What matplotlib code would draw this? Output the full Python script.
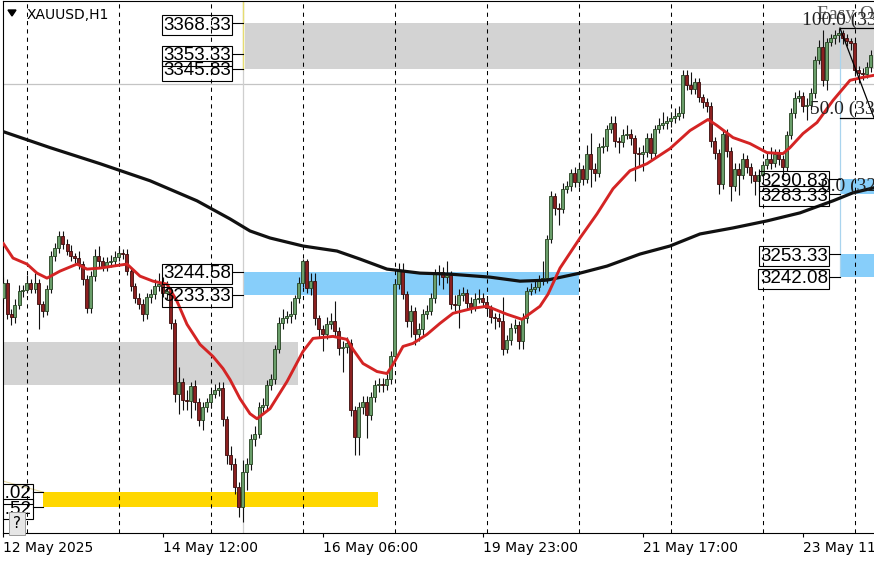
import matplotlib.pyplot as plt
from matplotlib import font_manager
from matplotlib.patches import Polygon, Rectangle

# XAUUSD H1, bar 0 = first visible bar (12 May 2025)
first_open = 3231.5
closes = [
    3239, 3223.5, 3222, 3228, 3235, 3235.5, 3239, 3236, 3239, 3228.5,
    3225, 3236, 3252.5, 3256.5, 3262.5, 3258.5, 3255, 3252.5, 3251.5, 3248.5,
    3241, 3226.5, 3242.5, 3252.5, 3250, 3247.5, 3249.5, 3250, 3252, 3254,
    3253.5, 3245, 3237.5, 3231.5, 3228.5, 3223.5, 3232, 3233.5, 3237.5, 3238.5,
    3234, 3235, 3219, 3184, 3190, 3181, 3180.5, 3188, 3180, 3171,
    3177.5, 3180, 3184, 3186, 3187, 3171.5, 3153.5, 3149, 3137.5, 3127.5,
    3145, 3149, 3161.5, 3164, 3177.5, 3178.5, 3188.5, 3191.5, 3206, 3219,
    3221.5, 3222.5, 3223.5, 3231.5, 3239, 3250, 3236.5, 3240, 3221.5, 3216,
    3213.5, 3218.5, 3220, 3215, 3206.5, 3207, 3209, 3176, 3162.5, 3177.5,
    3180, 3173.5, 3182.5, 3188.5, 3189, 3188.5, 3191.5, 3202.5, 3238.5, 3245,
    3233.5, 3220, 3225, 3213.5, 3216, 3223.5, 3225, 3231.5, 3243.5, 3244.5,
    3242, 3243, 3228.5, 3228, 3233, 3234, 3229, 3227, 3231, 3231.5,
    3229.5, 3226.5, 3222, 3221.5, 3220, 3206, 3210.5, 3216.5, 3218, 3210,
    3221.5, 3235, 3236, 3237, 3240, 3241.5, 3261, 3282.5, 3276.5, 3276,
    3286, 3287.5, 3294, 3289.5, 3296, 3291, 3303.5, 3296, 3294, 3307,
    3307.5, 3316, 3319, 3310, 3309.5, 3313, 3313.5, 3311.5, 3304, 3303.5,
    3304.5, 3311.5, 3304, 3316, 3318, 3319, 3319.5, 3321, 3322, 3323.5,
    3342.5, 3337.5, 3335.5, 3339, 3331.5, 3329, 3327, 3310, 3304, 3288.5,
    3313.5, 3305, 3287.5, 3296, 3293, 3301, 3297, 3293, 3290, 3293,
    3298, 3301, 3299, 3303.5, 3301, 3297, 3313, 3323.5, 3331, 3332,
    3327, 3327.5, 3333.5, 3350, 3356.5, 3340, 3359, 3361, 3362.5, 3363.5,
    3361, 3359.5, 3358.5, 3345, 3343.5, 3343, 3346.5, 3352.5,
]
highs = [
    3242, 3241, 3226, 3231, 3238, 3238, 3243, 3241, 3244, 3241,
    3230, 3238, 3255, 3259, 3265, 3265, 3261, 3258, 3254, 3255,
    3250, 3243, 3245, 3256, 3257.5, 3252, 3252, 3253, 3255, 3257,
    3256, 3256, 3247, 3239, 3234, 3231, 3234, 3236, 3241, 3244,
    3242, 3240, 3237, 3221, 3197.5, 3192, 3186, 3190, 3191, 3182,
    3180, 3182, 3186, 3189, 3190, 3190, 3173, 3158, 3152, 3140,
    3151, 3152, 3164, 3168, 3180, 3182, 3191, 3194, 3208, 3222,
    3226, 3225, 3230, 3233, 3242, 3251, 3251, 3244, 3244, 3223,
    3218, 3222, 3224, 3230, 3217, 3210, 3212, 3211, 3178, 3180,
    3183, 3183, 3185, 3191, 3192, 3192, 3194, 3205, 3241, 3249,
    3249, 3235, 3228, 3227, 3219, 3226, 3228, 3234, 3246, 3248,
    3247, 3250, 3245, 3233, 3236, 3237, 3236, 3232, 3234, 3236,
    3234, 3232, 3228, 3224, 3224, 3232, 3213, 3219, 3221, 3220,
    3224, 3237, 3239, 3240, 3243, 3250, 3263, 3285, 3284, 3279,
    3289, 3290, 3296, 3297, 3299, 3298, 3308, 3314, 3299, 3309,
    3312, 3318, 3322, 3322, 3312, 3316, 3318, 3316, 3313, 3307,
    3308, 3314, 3314, 3318, 3321, 3324, 3322, 3324, 3326, 3327,
    3345, 3345, 3344, 3341, 3341, 3333, 3331, 3329, 3312, 3306,
    3316, 3316, 3307, 3299, 3299, 3304, 3303, 3299, 3295, 3296,
    3300, 3304, 3307, 3306, 3306, 3303, 3315, 3326, 3334, 3335,
    3334, 3331, 3336, 3352, 3360, 3365, 3361, 3363, 3365, 3366,
    3365, 3363, 3361, 3360, 3347, 3346, 3349, 3355,
]
lows = [
    3229, 3221, 3218, 3219, 3226, 3232, 3234, 3234, 3234, 3216,
    3222, 3223, 3234, 3250, 3254, 3256, 3253, 3250, 3249, 3246,
    3238, 3224, 3224, 3240, 3247, 3245, 3245, 3247, 3248, 3250,
    3251, 3243, 3235, 3229, 3226, 3220, 3221, 3229, 3231, 3235,
    3232, 3231, 3216, 3180, 3174, 3176, 3176, 3172, 3176, 3168,
    3166, 3175, 3177, 3182, 3183, 3168, 3149, 3146, 3134, 3122.5,
    3120, 3136, 3146, 3158, 3162, 3175, 3176, 3186, 3189, 3204,
    3216, 3219, 3219, 3221, 3229, 3237, 3234, 3233, 3218, 3212,
    3205, 3211, 3216, 3212, 3203, 3195, 3204, 3173, 3153.5, 3153.5,
    3174, 3162, 3171, 3180, 3185, 3185, 3186, 3189, 3200, 3236,
    3231, 3217, 3212, 3208, 3210, 3213, 3221, 3223, 3229, 3238,
    3236, 3239, 3226, 3225, 3216.5, 3230, 3226, 3224, 3225, 3229,
    3227, 3224, 3219, 3216, 3217, 3203, 3204, 3208, 3214, 3206,
    3206, 3219, 3233, 3234, 3235, 3238, 3239, 3259, 3273, 3268,
    3274, 3284, 3285, 3287, 3287, 3288, 3289, 3287, 3290, 3292,
    3304, 3305, 3314, 3307, 3304, 3307, 3311, 3308, 3290, 3297,
    3295, 3302, 3301, 3302, 3314, 3316, 3316, 3317, 3319, 3320,
    3321, 3335, 3333, 3333, 3329, 3326, 3324, 3307, 3301, 3283.5,
    3286, 3302, 3280, 3285, 3283, 3291, 3294, 3289, 3283, 3288,
    3291, 3296, 3296, 3297, 3298, 3292, 3295, 3311, 3321, 3329,
    3324, 3320, 3325, 3331, 3348, 3337, 3335, 3357, 3358, 3359,
    3358, 3357, 3355, 3342, 3338.5, 3340, 3341, 3344,
]

# moving averages (bar index, price)
ma_fast_bar = [0, 2.5, 6, 8.5, 11, 14.25, 18.5, 21, 24.25, 27.5, 31, 34.25, 37.5, 41,
               43.5, 46, 49.25, 52.5, 55, 56.75, 59.25, 61.75, 63.5, 66.75, 71, 75,
               77.5, 82.5, 86, 87.5, 90, 93.5, 96, 97.5, 100, 102.5, 106, 109.25,
               112.5, 117.5, 121, 126, 129.75, 134.25, 136.25, 139.25, 144.25, 148.5,
               152.5, 156.75, 161, 166.75, 171.75, 176.25, 178.5, 182.5, 186.75, 191,
               195, 196.75, 200, 203.5, 207.5, 211.75, 215, 217.75]
ma_fast = [3259, 3251.5, 3248.5, 3244, 3241.5, 3245, 3248.5, 3246, 3246.5, 3247.5,
           3248.5, 3242.5, 3240, 3238.5, 3230, 3218.5, 3208.5, 3202.5, 3196.5, 3191,
           3181.5, 3174, 3171.5, 3176.5, 3190, 3205, 3211.5, 3212.5, 3211, 3206,
           3199, 3195, 3194, 3198.5, 3207.5, 3209, 3213.5, 3219, 3224, 3226.5,
           3227.5, 3223.5, 3221, 3227.5, 3233.5, 3246.5, 3261.5, 3273.5, 3286, 3295,
           3298.5, 3306, 3315, 3320.5, 3317.5, 3311.5, 3308.5, 3304, 3303.5, 3306.5,
           3313.5, 3319, 3330, 3340, 3341.5, 3342.5]
ma_slow_bar = [-0.75, 11.75, 24.25, 36.75, 48.5, 56.75, 61.75, 66.75, 75, 83.5, 89.25,
               96, 104.25, 111.75, 121.75, 129.25, 136, 144.25, 151, 159.25, 166.75,
               174.25, 182.5, 191, 199.25, 207.5, 212.5, 217.75]
ma_slow = [3315, 3306.5, 3298.5, 3290, 3280, 3271, 3265, 3261.5, 3257.5, 3255, 3251,
           3246, 3244, 3243.5, 3242, 3240, 3240.5, 3244, 3247.5, 3253.5, 3257.5,
           3263.5, 3266.5, 3270, 3274, 3280, 3284, 3286.5]

# zones: (first bar, last bar, top price, bottom price, colour)
zones = [
    (60.5, 218, 3368.33, 3345.83, '#d3d3d3'),
    (-1, 73.75, 3209.83, 3188.33, '#d3d3d3'),
    (60, 144, 3244.58, 3233.33, '#87cefa'),
    (10, 93.75, 3135.02, 3127.52, '#ffd700'),
    (209.25, 218, 3290.83, 3283.33, '#87cefa'),
    (209.25, 218, 3253.33, 3242.08, '#87cefa'),
]
# price labels: (text end bar, band start bar, prices)
labels = [
    (57, 60, [3368.33, 3353.33, 3345.83]),
    (57, 60, [3244.58, 3233.33]),
    (206.25, 209.25, [3290.83, 3283.33]),
    (206.25, 209.25, [3253.33, 3242.08]),
    (7, 10, [3135.02, 3127.52]),
]

day_lines = [6, 29, 52, 75, 98, 121, 144, 167, 190, 213]
tick_bars = [0, 40, 80, 120, 160, 200]
tick_labels = ['12 May 2025', '14 May 12:00', '16 May 06:00',
               '19 May 23:00', '21 May 17:00', '23 May 11:00']

plt.rcParams['font.family'] = ['DejaVu Sans']
names = {f.name for f in font_manager.fontManager.ttflist}
if 'Liberation Sans Narrow' in names:
    lab_font, lab_size = 'Liberation Sans Narrow', 15.5
else:
    lab_font, lab_size = 'Liberation Sans', 13.5

W, H = 874, 562
fig = plt.figure(figsize=(W / 100, H / 100), dpi=100)
ax = fig.add_axes([2.5 / W, 29 / H, (W - 2.5) / W, 532 / H])
ax.set_xlim(-0.125, 217.75)
ax.set_ylim(3114.6, 3379.5)

# zones
for x0, x1, top, bot, col in zones:
    ax.add_patch(Rectangle((x0, bot), x1 - x0, top - bot, facecolor=col,
                           edgecolor='none', zorder=1))

# helper lines
ax.axhline(3338.2, color='#c4c4c4', lw=0.9, zorder=1.5)
ax.axvline(60, color='#cfcfcf', lw=0.9, zorder=1.5)
ax.plot([60, 60], [3345.83, 3380], color='#e6dc70', lw=1.0, zorder=1.6)
ax.plot([209.25, 209.25], [3242.08, 3366], color='#a9d4ee', lw=0.9, zorder=1.6)
ax.plot([-1, 10], [3141, 3135], color='#e8dca8', lw=0.8, zorder=1.6)
for d in day_lines:
    ax.axvline(d, color='black', lw=0.75, ls=(0, (4, 4)), zorder=1.7)

# candles
opens = [first_open] + closes[:-1]
idx = list(range(len(closes)))
ax.vlines(idx, lows, highs, color='#111111', lw=0.8, zorder=2)
up = [i for i in idx if closes[i] >= opens[i]]
dn = [i for i in idx if closes[i] < opens[i]]
ax.bar(up, [closes[i] - opens[i] for i in up], bottom=[opens[i] for i in up],
       width=0.75, color='#6a9e6a', edgecolor='#24401f', lw=0.6, zorder=3)
ax.bar(dn, [opens[i] - closes[i] for i in dn], bottom=[closes[i] for i in dn],
       width=0.75, color='#8b2020', edgecolor='#3a0c0c', lw=0.6, zorder=3)

# moving averages
ax.plot(ma_slow_bar, ma_slow, color='#111111', lw=2.3, zorder=4,
        solid_capstyle='round', solid_joinstyle='round')
ax.plot(ma_fast_bar, ma_fast, color='#d42424', lw=2.1, zorder=4.5,
        solid_capstyle='round', solid_joinstyle='round')

# fibonacci lines and texts
serif = dict(family='Liberation Serif', fontsize=14, clip_on=True, zorder=6)
ax.plot([209.25, 218], [3366, 3366], color='black', lw=0.9, zorder=5)
ax.plot([209.25, 218], [3321.3, 3321.3], color='black', lw=0.9, zorder=5)
ax.plot([209.25, 217.75], [3366, 3321.3], color='black', lw=0.9, zorder=5)
ax.text(203.5, 3373, 'Easy Orders', color='#555555', va='center', **serif)
ax.text(199.75, 3365.5, '100.0 (3366.06)', color='#222222', va='bottom', **serif)
ax.text(201.75, 3321, '50.0 (3324.70)', color='#222222', va='bottom', **serif)
ax.text(204.5, 3283, '0.0 (3283.33)', color='#222222', va='bottom', **serif)

# price label boxes
for x_txt, x_band, prices in labels:
    for p in prices:
        ax.plot([x_txt + 0.5, x_band], [p, p], color='black', lw=0.8, zorder=6)
        ax.text(x_txt, p, f'{p:.2f}', family=lab_font, fontsize=lab_size,
                ha='right', va='center_baseline', zorder=7, clip_on=True,
                bbox=dict(boxstyle='square,pad=0.08', fc='none', ec='black', lw=0.8))

ax.text(3.5, 3119.2, '?', fontsize=11, ha='center', va='center', zorder=8,
        bbox=dict(boxstyle='square,pad=0.25', fc='#e6e6e6', ec='#9a9a9a', lw=0.7))

# symbol title
fig.text(27 / W, 1 - 15 / H, 'XAUUSD,H1', fontsize=10, va='center')
fig.add_artist(Polygon([(8 / W, 1 - 10 / H), (16 / W, 1 - 10 / H), (12 / W, 1 - 16 / H)],
                       closed=True, transform=fig.transFigure, color='black'))

# axes look
for s in ['left', 'top', 'bottom']:
    ax.spines[s].set_linewidth(0.8)
    ax.spines[s].set_color('black')
ax.spines['right'].set_visible(False)
ax.set_yticks([])
ax.set_xticks(tick_bars)
ax.set_xticklabels(tick_labels, ha='left')
ax.tick_params(axis='x', length=3, width=0.8, pad=3, labelsize=10)

fig.savefig('out.png', dpi=100)
